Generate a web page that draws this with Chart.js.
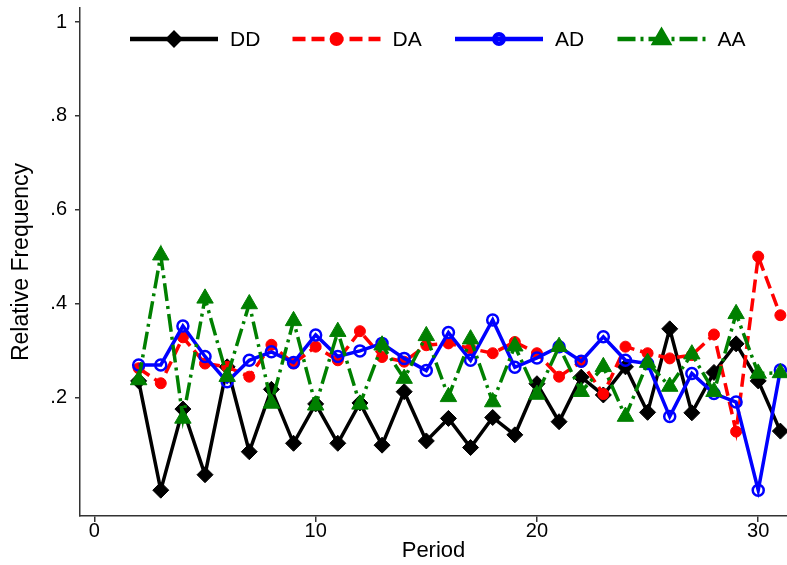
<!DOCTYPE html>
<html>
<head>
<meta charset="utf-8">
<title>Relative Frequency by Period</title>
<script src="https://cdn.jsdelivr.net/npm/chart.js@4.4.1/dist/chart.umd.min.js"></script>
<style>
  html, body { margin: 0; padding: 0; background: #fff; }
  #wrap { width: 787px; height: 565px; }
</style>
</head>
<body>
<div id="wrap"><canvas id="freqChart" width="787" height="565"></canvas></div>
<script>
// periods on the x axis
const periods = [2, 3, 4, 5, 6, 7, 8, 9, 10, 11, 12, 13, 14, 15, 16,
                 17, 18, 19, 20, 21, 22, 23, 24, 25, 26, 27, 28, 29, 30, 31];

// relative frequency of each outcome pair
const ddValues = [0.235, 0.002, 0.175, 0.035, 0.265, 0.084, 0.217, 0.102, 0.186, 0.102,
                  0.188, 0.098, 0.212, 0.107, 0.155, 0.093, 0.157, 0.120, 0.229, 0.148,
                  0.243, 0.205, 0.265, 0.168, 0.346, 0.167, 0.253, 0.314, 0.235, 0.128];
const daValues = [0.262, 0.230, 0.328, 0.272, 0.265, 0.244, 0.312, 0.272, 0.308, 0.279,
                  0.341, 0.286, 0.276, 0.311, 0.315, 0.304, 0.294, 0.318, 0.294, 0.244,
                  0.276, 0.207, 0.308, 0.294, 0.283, 0.290, 0.334, 0.127, 0.500, 0.375];
const adValues = [0.269, 0.269, 0.352, 0.287, 0.233, 0.279, 0.297, 0.274, 0.333, 0.287,
                  0.299, 0.315, 0.283, 0.257, 0.338, 0.279, 0.365, 0.264, 0.284, 0.308,
                  0.277, 0.329, 0.279, 0.272, 0.159, 0.251, 0.208, 0.190, 0.002, 0.258];
const aaValues = [0.237, 0.503, 0.155, 0.411, 0.244, 0.399, 0.187, 0.363, 0.183, 0.340,
                  0.185, 0.311, 0.240, 0.331, 0.201, 0.324, 0.190, 0.309, 0.206, 0.308,
                  0.212, 0.265, 0.159, 0.274, 0.223, 0.292, 0.212, 0.378, 0.251, 0.252];

const seriesNames = ['DD', 'DA', 'AD', 'AA'];
const xTicks = [0, 10, 20, 30];
const yTicks = [0.2, 0.4, 0.6, 0.8, 1];

const FONT = "'Liberation Sans', Arial, Helvetica, sans-serif";
const AXIS_COLOR = '#333';

const toPoints = vals => periods.map((p, i) => ({ x: p, y: vals[i] }));

// Stata-style labels: ".2", ".4", ... "1"
const fmtY = v => (v === 1 ? '1' : String(v).replace(/^0/, ''));

// legend row across the top of the plot: line + marker + label
const seriesKey = {
  id: 'seriesKey',
  afterDraw(chart) {
    const { ctx, chartArea } = chart;
    const y = chartArea.top + 31;
    const startX = chartArea.left + 50;
    const step = 162.5;
    const lineLen = 88;
    ctx.save();
    chart.data.datasets.forEach((ds, i) => {
      const x0 = startX + i * step;
      ctx.strokeStyle = ds.borderColor;
      ctx.lineWidth = ds.borderWidth + 1;
      ctx.setLineDash(ds.borderDash || []);
      ctx.beginPath();
      ctx.moveTo(x0, y);
      ctx.lineTo(x0 + lineLen, y);
      ctx.stroke();
      ctx.setLineDash([]);
      ctx.fillStyle = ds.pointBackgroundColor;
      ctx.strokeStyle = ds.pointBorderColor;
      Chart.helpers.drawPoint(ctx, {
        pointStyle: ds.pointStyle,
        rotation: 0,
        radius: ds.pointRadius * (ds.pointStyle === 'rectRot' ? 0.72 : 0.85),
        borderWidth: ds.pointBorderWidth
      }, x0 + lineLen / 2, y);
      ctx.fillStyle = '#000';
      ctx.font = '21px ' + FONT;
      ctx.textBaseline = 'middle';
      ctx.textAlign = 'left';
      ctx.fillText(ds.label, x0 + lineLen + 12, y + 1);
    });
    ctx.restore();
  }
};

new Chart(document.getElementById('freqChart'), {
  type: 'line',
  data: {
    datasets: [
      {
        label: seriesNames[0], data: toPoints(ddValues), order: 4,
        borderColor: '#000', borderWidth: 3.5,
        pointStyle: 'rectRot', pointRadius: 8, pointBorderWidth: 1,
        pointBackgroundColor: '#000', pointBorderColor: '#000'
      },
      {
        label: seriesNames[1], data: toPoints(daValues), order: 3,
        borderColor: '#ff0000', borderWidth: 3.5, borderDash: [13, 6],
        pointStyle: 'circle', pointRadius: 5.5, pointBorderWidth: 1,
        pointBackgroundColor: '#ff0000', pointBorderColor: '#ff0000'
      },
      {
        label: seriesNames[2], data: toPoints(adValues), order: 2,
        borderColor: '#0000ff', borderWidth: 3.5,
        pointStyle: 'circle', pointRadius: 5.5, pointBorderWidth: 2.5,
        pointBackgroundColor: 'rgba(0,0,0,0)', pointBorderColor: '#0000ff'
      },
      {
        label: seriesNames[3], data: toPoints(aaValues), order: 1,
        borderColor: '#008000', borderWidth: 3.5, borderDash: [18, 5, 3, 5],
        pointStyle: 'triangle', pointRadius: 9.5, pointBorderWidth: 1,
        pointBackgroundColor: '#008000', pointBorderColor: '#008000'
      }
    ]
  },
  options: {
    responsive: false,
    devicePixelRatio: 1,
    animation: false,
    layout: { autoPadding: false, padding: { top: 8, right: 0, bottom: 0, left: 0 } },
    elements: { line: { tension: 0, fill: false } },
    plugins: { legend: { display: false }, tooltip: { enabled: false } },
    scales: {
      x: {
        type: 'linear',
        min: -0.65,
        max: 31.3,
        afterBuildTicks: s => { s.ticks = xTicks.map(v => ({ value: v })); },
        afterFit: s => { s.height = 49; s.paddingLeft = 0; s.paddingRight = 0; },
        grid: { display: true, drawOnChartArea: false, drawTicks: true, tickLength: 6,
                color: AXIS_COLOR, lineWidth: 1.5 },
        border: { display: true, color: AXIS_COLOR, width: 1.5 },
        ticks: { color: '#000', font: { family: FONT, size: 20 }, padding: -3,
                 maxRotation: 0, autoSkip: false },
        title: { display: true, text: 'Period', color: '#000',
                 font: { family: FONT, size: 22 }, padding: { top: 0, bottom: 1 } }
      },
      y: {
        min: -0.053,
        max: 1.03,
        afterBuildTicks: s => { s.ticks = yTicks.map(v => ({ value: v })); },
        afterFit: s => { s.width = 80; s.paddingTop = 0; s.paddingBottom = 0; },
        grid: { display: true, drawOnChartArea: false, drawTicks: true, tickLength: 5,
                color: AXIS_COLOR, lineWidth: 1.5 },
        border: { display: true, color: AXIS_COLOR, width: 1.5 },
        ticks: { color: '#000', font: { family: FONT, size: 20 }, padding: 8,
                 callback: v => fmtY(v) },
        title: { display: true, text: 'Relative Frequency', color: '#000',
                 font: { family: FONT, size: 23 }, padding: { top: 8, bottom: 0 } }
      }
    }
  },
  plugins: [seriesKey]
});
</script>
</body>
</html>
